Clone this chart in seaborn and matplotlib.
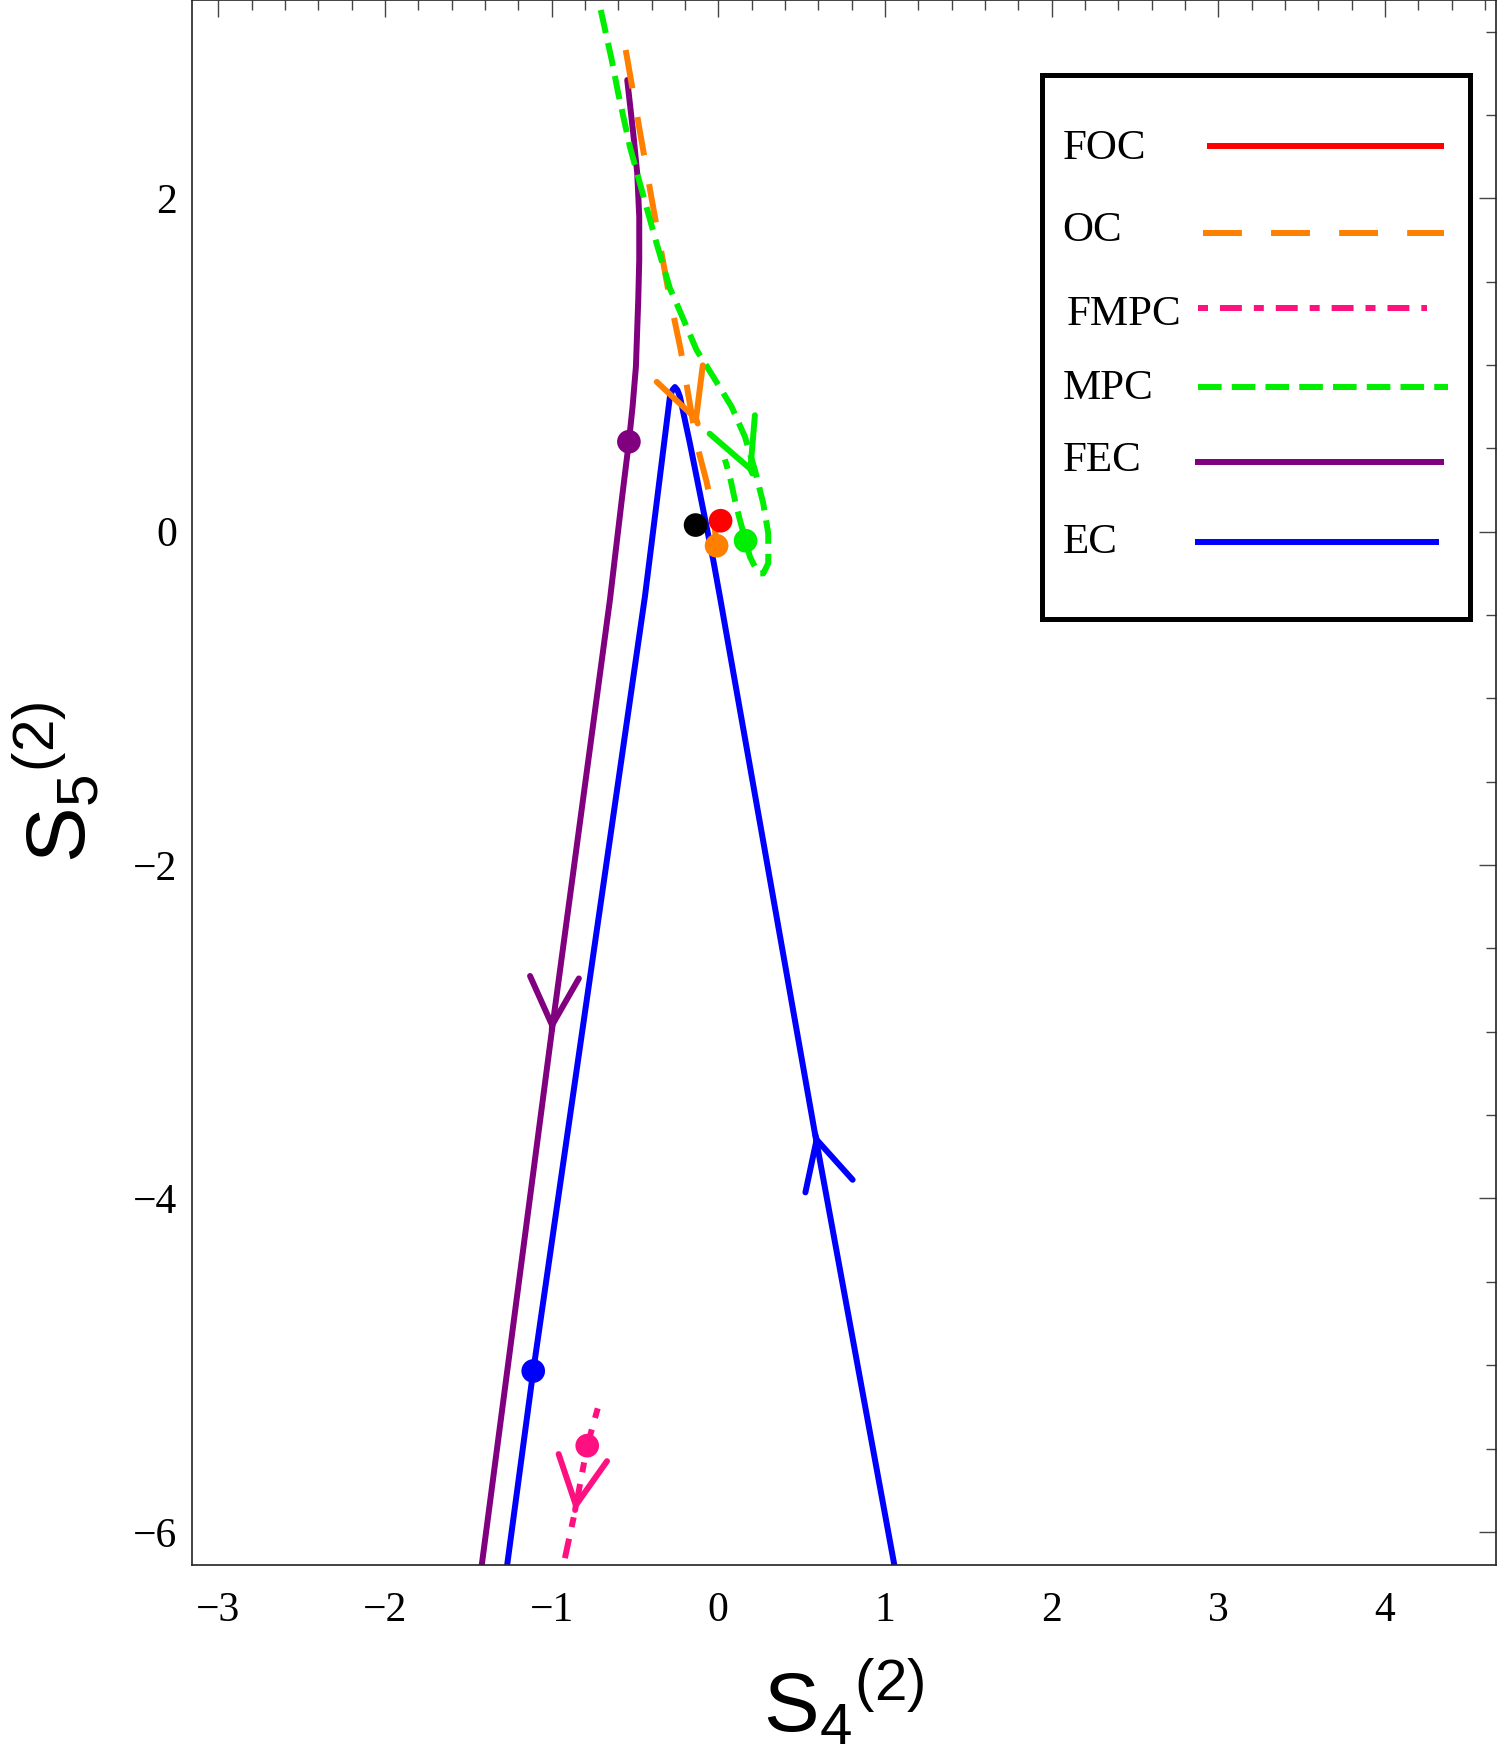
import numpy as np
import pandas as pd
import matplotlib
matplotlib.use("Agg")
import matplotlib.pyplot as plt
import seaborn as sns
from matplotlib.ticker import MultipleLocator
from matplotlib.patches import Rectangle

# ---- data (S4, S5 coordinates) ----
fec_x = [-0.546, -0.510, -0.486, -0.474, -0.474, -0.480, -0.494, -0.514, -0.536, -0.579, -0.650, -0.999, -1.432]
fec_y = [2.710, 2.390, 2.150, 1.890, 1.630, 1.390, 0.990, 0.750, 0.540, 0.190, -0.410, -3.000, -6.300]

ec_x = [-1.280, -1.110, -0.440, -0.290, -0.275, -0.260, -0.245, -0.230, -0.170, -0.110, -0.070, -0.030, 0.010, 0.580, 1.075]
ec_y = [-6.300, -5.035, -0.390, 0.810, 0.850, 0.868, 0.850, 0.810, 0.530, 0.230, 0.030, -0.170, -0.390, -3.609, -6.300]

oc_x = [-0.555, -0.400, -0.300, -0.225, -0.130, -0.070, -0.030, -0.010]
oc_y = [2.890, 2.000, 1.450, 1.090, 0.530, 0.300, 0.110, -0.084]

mpc_x = [-0.705, -0.639, -0.600, -0.530, -0.459, -0.370, -0.290, -0.250, -0.130, -0.030, 0.080, 0.160,
         0.220, 0.270, 0.300, 0.300, 0.270, 0.240, 0.190, 0.164, 0.130, 0.100, 0.070, 0.040]
mpc_y = [3.130, 2.830, 2.630, 2.310, 2.050, 1.730, 1.460, 1.370, 1.090, 0.930, 0.750, 0.570,
         0.370, 0.170, -0.010, -0.190, -0.250, -0.250, -0.150, -0.054, 0.070, 0.190, 0.330, 0.434]

fmpc_x = [-0.723, -0.786, -0.860, -0.920]
fmpc_y = [-5.259, -5.483, -5.879, -6.158]

# fixed points (dots)
pt_names = ["FEC", "EC", "FMPC", "BLACK", "FOC", "OC", "MPC"]
pt_x = [-0.536, -1.110, -0.786, -0.136, 0.014, -0.010, 0.164]
pt_y = [0.540, -5.035, -5.483, 0.040, 0.066, -0.084, -0.054]

# arrow tips and their direction of travel
arr_names = ["FEC", "EC", "OC", "MPC", "FMPC"]
arr_x = [-0.999, 0.580, -0.120, 0.208, -0.860]
arr_y = [-3.000, -3.609, 0.640, 0.340, -5.879]
arr_dx = [-0.05, -0.258, 0.338, 0.378, -0.145]
arr_dy = [-0.999, 0.966, -0.941, -0.926, -0.989]

legend_labels = ["FOC", "OC", "FMPC", "MPC", "FEC", "EC"]

colors = {"FOC": "#FF0000", "OC": "#FF8000", "FMPC": "#FF1080", "MPC": "#00EE00",
          "FEC": "#800080", "EC": "#0000FF", "BLACK": "#000000"}
styles = {"FOC": "-", "OC": (0, (28, 21)), "FMPC": (0, (7.2, 8.6, 15.8, 8.6)),
          "MPC": (0, (17, 7.3)), "FEC": "-", "EC": "-"}

sns.set_theme(style="white", rc={"text.color": "black", "axes.labelcolor": "black",
                                 "xtick.color": "black", "ytick.color": "black"})
plt.rcParams["lines.scale_dashes"] = False
plt.rcParams["font.family"] = ["Liberation Serif", "DejaVu Serif"]
plt.rcParams["mathtext.default"] = "regular"

fig = plt.figure(figsize=(15, 17.63), dpi=100)
ax = fig.add_axes([0.1278, 0.1123, 0.8693, 0.8877])

LW = 4.3
curves = [("FEC", fec_x, fec_y), ("EC", ec_x, ec_y), ("OC", oc_x, oc_y),
          ("MPC", mpc_x, mpc_y), ("FMPC", fmpc_x, fmpc_y)]
for name, xs, ys in curves:
    sns.lineplot(x=xs, y=ys, sort=False, estimator=None, color=colors[name],
                 linewidth=LW, linestyle=styles[name], ax=ax)

# arrow heads (open chevrons)
for name, x, y, dx, dy in zip(arr_names, arr_x, arr_y, arr_dx, arr_dy):
    ax.annotate("", xy=(x, y), xytext=(x - 0.01 * dx, y - 0.01 * dy),
                arrowprops=dict(arrowstyle="->,head_length=3.46,head_width=1.76",
                                color=colors[name], lw=LW, mutation_scale=10,
                                shrinkA=0, shrinkB=0))

pts = pd.DataFrame({"x": pt_x, "y": pt_y, "name": pt_names})
sns.scatterplot(data=pts, x="x", y="y", hue="name",
                palette={n: colors[n] for n in pt_names}, s=290,
                linewidth=0, legend=False, zorder=5, ax=ax)

ax.set_xlim(-3.159, 4.664)
ax.set_ylim(-6.199, 3.190)
ax.xaxis.set_major_locator(MultipleLocator(1))
ax.xaxis.set_minor_locator(MultipleLocator(0.2))
ax.yaxis.set_major_locator(MultipleLocator(2))
ax.yaxis.set_minor_locator(MultipleLocator(0.5))
ax.tick_params(which="both", direction="in", top=True, right=True,
               color="#444444", labelcolor="black", width=1.0, labelsize=30)
ax.tick_params(which="major", length=12.2)
ax.tick_params(which="minor", length=7.2)
ax.tick_params(axis="x", pad=19)
ax.tick_params(axis="y", pad=10.5)
for sp in ax.spines.values():
    sp.set_color("#222222")
    sp.set_linewidth(1.2)

ax.set_xlabel(r"${S_4}^{(2)}$", fontsize=60, fontfamily="Liberation Sans", color="black")
ax.set_ylabel(r"${S_5}^{(2)}$", fontsize=60, fontfamily="Liberation Sans", color="black")
ax.xaxis.set_label_coords(0.5, -0.0594)
ax.yaxis.set_label_coords(-0.068, 0.5)

# legend box: labels on the left, line samples on the right
ax.add_patch(Rectangle((0.652, 0.6042), 0.3287, 0.3476, transform=ax.transAxes,
                       facecolor="white", edgecolor="black", lw=3.6, zorder=6))
text_pos = [(0.668, 0.8984), (0.668, 0.846), (0.6713, 0.7923), (0.668, 0.745), (0.668, 0.699), (0.668, 0.6466)]
line_pos = [(0.7784, 0.9604, 0.9069), (0.7753, 0.9604, 0.8511), (0.7717, 0.9476, 0.803),
            (0.7717, 0.9634, 0.7524), (0.7694, 0.9604, 0.7048), (0.7694, 0.9569, 0.6538)]
for lab, (tx, ty), (lx0, lx1, ly) in zip(legend_labels, text_pos, line_pos):
    ax.text(tx, ty, lab, transform=ax.transAxes, fontsize=31, va="baseline", ha="left",
            color="black", zorder=7)
    ax.plot([lx0, lx1], [ly, ly], transform=ax.transAxes, color=colors[lab],
            lw=LW, linestyle=styles[lab], solid_capstyle="butt", dash_capstyle="butt", zorder=7)

fig.savefig("out.png", dpi=100)
